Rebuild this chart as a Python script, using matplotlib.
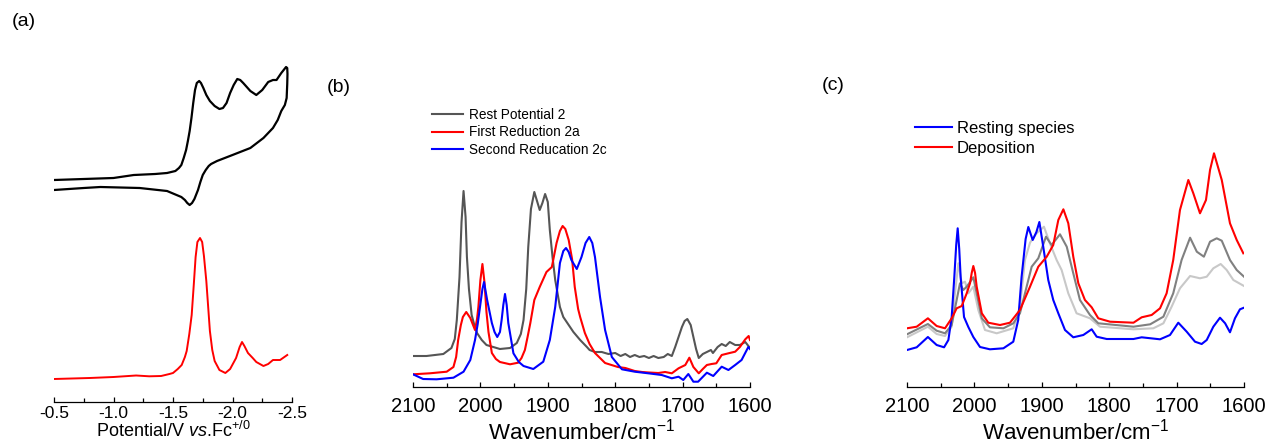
import matplotlib
matplotlib.use('Agg')
import matplotlib.pyplot as plt
from matplotlib.ticker import MultipleLocator

plt.rcParams['font.family'] = ['Liberation Sans', 'DejaVu Sans']
plt.rcParams['mathtext.fontset'] = 'custom'
plt.rcParams['mathtext.rm'] = 'Liberation Sans'
plt.rcParams['mathtext.it'] = 'Liberation Sans:italic'
plt.rcParams['axes.unicode_minus'] = False

# ---- (a) CV and DPV, potential in V vs Fc+/0, current in a.u.
cv_E = [-0.50, -0.75, -1.00, -1.17, -1.35, -1.45, -1.52, -1.55, -1.57, -1.59, -1.61, -1.625,
        -1.64, -1.655, -1.67, -1.685, -1.70, -1.72, -1.735, -1.755, -1.78, -1.81, -1.85,
        -1.89, -1.92, -1.95, -1.98, -2.01, -2.04, -2.065, -2.09, -2.12, -2.15, -2.20,
        -2.25, -2.30, -2.34, -2.37, -2.41, -2.45, -2.46,
        -2.462, -2.46, -2.455, -2.44, -2.41, -2.38, -2.34, -2.30, -2.26, -2.15, -2.00, -1.87,
        -1.82, -1.80, -1.775, -1.75, -1.73, -1.71, -1.68, -1.66, -1.64, -1.62, -1.60, -1.57,
        -1.53, -1.45, -1.22, -0.89, -0.75, -0.50]
cv_I = [2.22, 2.23, 2.24, 2.27, 2.28, 2.29, 2.31, 2.34, 2.37, 2.44, 2.52, 2.61,
        2.71, 2.84, 2.99, 3.12, 3.19, 3.21, 3.19, 3.14, 3.07, 3.01, 2.96,
        2.93, 2.94, 2.99, 3.09, 3.17, 3.23, 3.22, 3.19, 3.15, 3.11, 3.07,
        3.12, 3.20, 3.22, 3.22, 3.29, 3.35, 3.34,
        3.28, 3.18, 3.04, 2.97, 2.91, 2.82, 2.74, 2.69, 2.64, 2.54, 2.47, 2.41,
        2.38, 2.36, 2.32, 2.27, 2.20, 2.12, 2.03, 1.99, 1.97, 1.99, 2.02, 2.05,
        2.07, 2.11, 2.14, 2.15, 2.14, 2.12]

dpv_E = [-0.50, -0.80, -1.00, -1.19, -1.30, -1.40, -1.47, -1.50, -1.54, -1.573, -1.60, -1.615,
         -1.637, -1.657, -1.675, -1.69, -1.705, -1.727, -1.745, -1.76, -1.78, -1.795, -1.81,
         -1.83, -1.85, -1.89, -1.94, -1.98, -2.03, -2.06, -2.08, -2.10, -2.13, -2.17, -2.20,
         -2.26, -2.30, -2.34, -2.40, -2.46]
dpv_I = [0.23, 0.24, 0.25, 0.265, 0.257, 0.26, 0.28, 0.29, 0.33, 0.37, 0.45, 0.51,
         0.68, 0.87, 1.18, 1.45, 1.60, 1.64, 1.60, 1.46, 1.21, 0.96, 0.71,
         0.52, 0.41, 0.32, 0.29, 0.33, 0.44, 0.55, 0.60, 0.56, 0.49, 0.44, 0.40,
         0.36, 0.38, 0.42, 0.42, 0.47]

# ---- (b) IR spectra
b_gray_wn = [2100, 2080, 2055, 2043, 2038, 2035, 2031, 2028, 2025, 2022, 2020, 2017, 2013,
             2009, 2005, 1998, 1991, 1971, 1956, 1946, 1940, 1936, 1932, 1929, 1925, 1920,
             1916, 1912, 1908, 1904, 1900, 1897, 1893, 1889, 1882, 1877, 1867, 1862, 1852,
             1842, 1838, 1830, 1820, 1810, 1800, 1792, 1785, 1778, 1771, 1764, 1757, 1750,
             1743, 1736, 1728, 1722, 1716, 1711, 1706, 1701, 1697, 1693, 1688, 1684, 1680,
             1676, 1670, 1664, 1658, 1655, 1648, 1642, 1636, 1630, 1622, 1615, 1607, 1600]
b_gray = [0.31, 0.31, 0.33, 0.39, 0.48, 0.67, 1.10, 1.65, 1.96, 1.70, 1.30, 0.98, 0.72,
          0.62, 0.54, 0.47, 0.42, 0.38, 0.39, 0.44, 0.53, 0.67, 0.98, 1.40, 1.78, 1.95,
          1.86, 1.77, 1.84, 1.93, 1.85, 1.57, 1.30, 1.07, 0.80, 0.70, 0.60, 0.55, 0.47,
          0.40, 0.37, 0.35, 0.35, 0.33, 0.34, 0.31, 0.33, 0.30, 0.32, 0.30, 0.31, 0.29,
          0.31, 0.29, 0.30, 0.33, 0.31, 0.40, 0.50, 0.60, 0.66, 0.68, 0.62, 0.50, 0.38,
          0.29, 0.33, 0.35, 0.37, 0.34, 0.40, 0.43, 0.41, 0.45, 0.42, 0.42, 0.45, 0.39]

b_red_wn = [2100, 2075, 2050, 2040, 2036, 2033, 2029, 2026, 2021, 2015, 2008, 2005, 2003,
            2000, 1997, 1994, 1991, 1988, 1983, 1977, 1971, 1956, 1944, 1939, 1934, 1930,
            1926, 1920, 1912, 1902, 1894, 1887, 1882, 1878, 1874, 1869, 1864, 1860, 1855,
            1852, 1845, 1838, 1830, 1815, 1796, 1785, 1771, 1760, 1750, 1736, 1726, 1716,
            1706, 1696, 1690, 1684, 1676, 1670, 1664, 1657, 1650, 1642, 1632, 1622, 1615,
            1607, 1602, 1600]
b_red = [0.127, 0.137, 0.153, 0.20, 0.30, 0.47, 0.62, 0.70, 0.75, 0.69, 0.57, 0.68, 0.80,
         1.07, 1.23, 1.05, 0.75, 0.55, 0.34, 0.28, 0.25, 0.227, 0.243, 0.29, 0.37, 0.50,
         0.637, 0.87, 1.00, 1.15, 1.20, 1.44, 1.56, 1.61, 1.58, 1.47, 1.28, 1.00, 0.78,
         0.70, 0.54, 0.43, 0.34, 0.24, 0.20, 0.19, 0.16, 0.15, 0.145, 0.14, 0.15, 0.137,
         0.187, 0.22, 0.293, 0.20, 0.137, 0.18, 0.22, 0.23, 0.237, 0.32, 0.337, 0.353, 0.40,
         0.477, 0.51, 0.47]

b_blue_wn = [2100, 2085, 2065, 2040, 2025, 2015, 2008, 2004, 2000.6, 1997, 1994.6, 1990,
             1983, 1979, 1975, 1971, 1968.5, 1966, 1963.5, 1961, 1958.6, 1951, 1943, 1936,
             1921.5, 1906.7, 1897, 1889, 1882, 1877, 1873, 1869, 1865, 1857, 1850, 1844,
             1838.5, 1834, 1830, 1822.5, 1815, 1805, 1790, 1771, 1751, 1731, 1716, 1706,
             1699, 1691.5, 1684, 1677, 1664, 1654.5, 1642, 1632, 1622, 1612.5, 1602.5, 1600]
b_blue = [0.127, 0.08, 0.077, 0.093, 0.153, 0.27, 0.47, 0.63, 0.80, 0.98, 1.05, 0.87,
          0.64, 0.55, 0.50, 0.55, 0.67, 0.82, 0.93, 0.82, 0.64, 0.337, 0.25, 0.21,
          0.18, 0.253, 0.47, 0.80, 1.24, 1.36, 1.39, 1.35, 1.27, 1.18, 1.30, 1.44,
          1.50, 1.44, 1.30, 0.90, 0.57, 0.30, 0.177, 0.153, 0.137, 0.12, 0.087, 0.103,
          0.07, 0.13, 0.053, 0.053, 0.143, 0.11, 0.203, 0.17, 0.22, 0.27, 0.40, 0.38]

b_labels = ['Rest Potential 2', 'First Reduction 2a', 'Second Reducation 2c']

# ---- (c) IR spectra
c_blue_wn = [2100, 2085.6, 2069, 2056, 2045, 2038.6, 2033.7, 2029.8, 2027, 2024.8, 2022.5,
             2020.4, 2015.4, 2009, 2001.6, 1991.7, 1977, 1957, 1942.3, 1935, 1930, 1924, 1920,
             1913.5, 1908, 1903.6, 1897.8, 1890.4, 1883, 1875.5, 1865.6, 1853.3, 1838.4, 1826,
             1818.6, 1803.7, 1764, 1751.8, 1724.6, 1709.8, 1697.5, 1685, 1672.7, 1662.8,
             1655.3, 1645.5, 1635.6, 1628, 1620.8, 1613.4, 1606, 1600]
c_blue = [0.37, 0.397, 0.50, 0.42, 0.397, 0.47, 0.70, 1.10, 1.42, 1.587, 1.38,
          1.10, 0.70, 0.60, 0.50, 0.40, 0.377, 0.387, 0.453, 0.67, 1.10, 1.48, 1.60,
          1.47, 1.55, 1.65, 1.40, 1.07, 0.87, 0.737, 0.57, 0.497, 0.52, 0.577,
          0.503, 0.48, 0.48, 0.497, 0.477, 0.52, 0.643, 0.553, 0.453, 0.43,
          0.47, 0.603, 0.693, 0.637, 0.547, 0.687, 0.777, 0.793]

c_red_wn = [2100, 2085.6, 2069, 2056, 2043.6, 2033.7, 2026.3, 2018.8, 2011.4, 2006.5, 2004,
            2001.6, 1999, 1996.6, 1989, 1979.4, 1962, 1947.2, 1932.4, 1917.5, 1905.2, 1892.7,
            1883, 1875.5, 1868, 1860.7, 1853.3, 1845.8, 1836, 1826, 1816.2, 1798.8, 1764,
            1751.8, 1737, 1724.6, 1714.8, 1705, 1695, 1682.6, 1675.2, 1665.3, 1656.4, 1650.4,
            1644.5, 1633, 1620.8, 1610.8, 1601]
c_red = [0.587, 0.603, 0.687, 0.61, 0.587, 0.687, 0.787, 0.81, 0.937, 1.037, 1.14,
         1.21, 1.14, 1.003, 0.737, 0.643, 0.62, 0.643, 0.77, 1.003, 1.203, 1.303,
         1.42, 1.67, 1.777, 1.637, 1.303, 1.037, 0.87, 0.797, 0.687, 0.653, 0.643,
         0.697, 0.72, 0.787, 0.937, 1.27, 1.77, 2.07, 1.937, 1.737, 1.87, 2.17,
         2.337, 2.07, 1.637, 1.47, 1.337]

c_dgray_wn = [2100, 2069, 2056, 2043.6, 2033.7, 2026.3, 2021.4, 2016.5, 2011.4, 2001.6, 1996.6,
              1989, 1977, 1957, 1942.3, 1932.4, 1922.5, 1915, 1905.2, 1893.8, 1885.5, 1873,
              1863, 1853.3, 1843.4, 1828.5, 1816.2, 1764, 1739.2, 1719.6, 1705, 1692.6, 1680,
              1670, 1659.5, 1650.4, 1640.5, 1633, 1620.8, 1610.8, 1600]
c_dgray = [0.527, 0.63, 0.563, 0.537, 0.62, 0.87, 1.037, 0.97, 1.003, 1.097, 0.937,
           0.687, 0.597, 0.587, 0.637, 0.737, 1.003, 1.203, 1.287, 1.503, 1.42, 1.527,
           1.403, 1.137, 0.87, 0.72, 0.637, 0.603, 0.627, 0.703, 0.937, 1.27, 1.493,
           1.353, 1.303, 1.453, 1.487, 1.463, 1.27, 1.17, 1.103]

c_lgray_wn = [2100, 2069, 2056, 2043.6, 2033.7, 2028.8, 2023.8, 2018.8, 2013.9, 2009, 2001.6,
              1994.2, 1984.3, 1966.9, 1942.3, 1932.4, 1925, 1917.5, 1907.7, 1896.8, 1888, 1878,
              1870.6, 1860.7, 1848.4, 1828.5, 1813.7, 1764, 1734.5, 1719.6, 1707.4, 1695, 1680,
              1665.3, 1655.3, 1645.5, 1634.6, 1625.7, 1615.8, 1600]
c_lgray = [0.497, 0.603, 0.53, 0.51, 0.603, 0.937, 1.237, 1.037, 1.053, 0.937, 1.003,
           0.77, 0.57, 0.537, 0.587, 0.803, 1.27, 1.443, 1.537, 1.603, 1.437, 1.27,
           1.17, 0.937, 0.737, 0.687, 0.603, 0.577, 0.587, 0.637, 0.803, 0.987, 1.11,
           1.087, 1.103, 1.187, 1.23, 1.17, 1.07, 1.01]

c_labels = ['Resting species', 'Deposition']

W, H = 1275, 448
fig = plt.figure(figsize=(W / 100, H / 100), dpi=100)


def box(left, right, top, bottom):
    return [left / W, 1 - bottom / H, (right - left) / W, (bottom - top) / H]


def style(ax, labelsize, pad):
    for s in ['left', 'right', 'top']:
        ax.spines[s].set_visible(False)
    ax.spines['bottom'].set_linewidth(0.9)
    ax.set_yticks([])
    ax.tick_params(axis='x', which='major', direction='in', length=3.8, width=0.9,
                   labelsize=labelsize, pad=pad)
    ax.tick_params(axis='x', which='minor', direction='in', length=2.6, width=0.9)
    ax.patch.set_alpha(0)


# (a)
ax1 = fig.add_axes(box(54, 292, 55, 402))
ax1.plot(cv_E, cv_I, color='black', lw=1.6)
ax1.plot(dpv_E, dpv_I, color='red', lw=1.4)
ax1.set_xlim(-0.5, -2.5)
ax1.set_ylim(0, 3.47)
ax1.xaxis.set_major_locator(MultipleLocator(0.5))
ax1.xaxis.set_minor_locator(MultipleLocator(0.25))
style(ax1, 12.5, 3)
ax1.set_xlabel(r'Potential/V $\it{vs}$.Fc$^{+/0}$', fontsize=13, labelpad=0)

# (b)
ax2 = fig.add_axes(box(413, 750, 180, 387))
ax2.plot(b_gray_wn, b_gray, color='#555555', lw=1.5, label=b_labels[0])
ax2.plot(b_red_wn, b_red, color='red', lw=1.5, label=b_labels[1])
ax2.plot(b_blue_wn, b_blue, color='blue', lw=1.5, label=b_labels[2])
ax2.set_xlim(2100, 1600)
ax2.set_ylim(0, 2.07)
ax2.xaxis.set_major_locator(MultipleLocator(100))
ax2.xaxis.set_minor_locator(MultipleLocator(50))
style(ax2, 14.5, 7)
ax2.set_xlabel(r'Wavenumber/cm$^{-1}$', fontsize=16, labelpad=2)
ax2.legend(loc='upper left', bbox_to_anchor=(432 / W, 1 - 108 / H),
           bbox_transform=fig.transFigure, frameon=False, fontsize=9.8,
           borderpad=0, borderaxespad=0, handlelength=2.3, handletextpad=0.4,
           labelspacing=0.25)

# (c)
ax3 = fig.add_axes(box(907, 1244, 140, 387))
ax3.plot(c_lgray_wn, c_lgray, color='#c8c8c8', lw=1.5)
ax3.plot(c_dgray_wn, c_dgray, color='#808080', lw=1.5)
ax3.plot(c_blue_wn, c_blue, color='blue', lw=1.5, label=c_labels[0])
ax3.plot(c_red_wn, c_red, color='red', lw=1.5, label=c_labels[1])
ax3.set_xlim(2100, 1600)
ax3.set_ylim(0, 2.47)
ax3.xaxis.set_major_locator(MultipleLocator(100))
ax3.xaxis.set_minor_locator(MultipleLocator(50))
style(ax3, 14.5, 7)
ax3.set_xlabel(r'Wavenumber/cm$^{-1}$', fontsize=16, labelpad=2)
ax3.legend(loc='upper left', bbox_to_anchor=(915 / W, 1 - 121 / H),
           bbox_transform=fig.transFigure, frameon=False, fontsize=12,
           borderpad=0, borderaxespad=0, handlelength=2.2, handletextpad=0.3,
           labelspacing=0.3)

fig.text(12 / W, 1 - 22 / H, '(a)', fontsize=14, va='center')
fig.text(327 / W, 1 - 87 / H, '(b)', fontsize=14, va='center')
fig.text(822 / W, 1 - 85 / H, '(c)', fontsize=14, va='center')

fig.savefig('out.png', dpi=100)
